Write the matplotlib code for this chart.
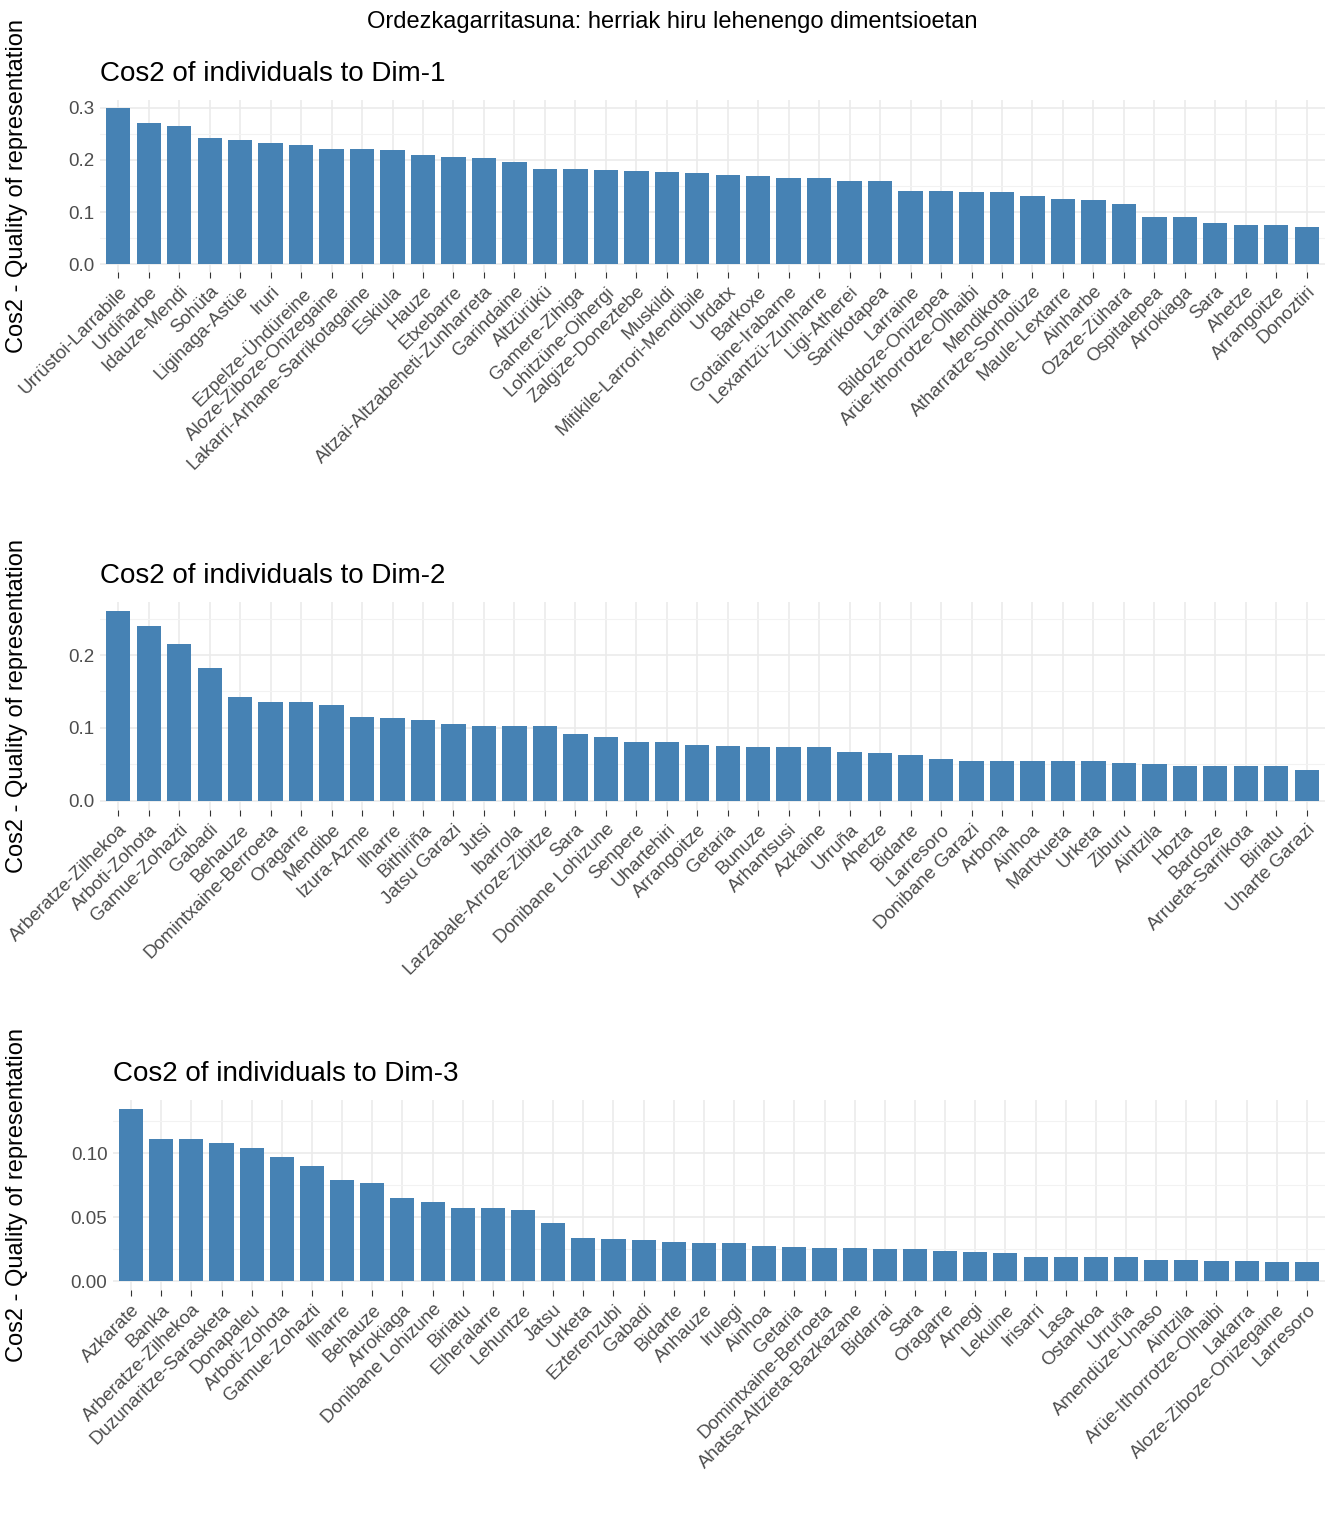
import numpy as np
import matplotlib.pyplot as plt
from matplotlib.ticker import MultipleLocator

plt.rcParams['font.family'] = ['Liberation Sans', 'DejaVu Sans']

# Dim-1
names1 = ['Urrüstoi-Larrabile', 'Urdiñarbe', 'Idauze-Mendi', 'Sohüta', 'Liginaga-Astüe', 'Iruri',
          'Ezpelze-Ündüreine', 'Aloze-Ziboze-Onizegaine', 'Lakarri-Arhane-Sarrikotagaine', 'Eskiula',
          'Hauze', 'Etxebarre', 'Altzai-Altzabeheti-Zunharreta', 'Garindaine', 'Altzürükü',
          'Gamere-Zihiga', 'Lohitzüne-Oihergi', 'Zalgize-Doneztebe', 'Muskildi',
          'Mitikile-Larrori-Mendibile', 'Urdatx', 'Barkoxe', 'Gotaine-Irabarne', 'Lexantzü-Zunharre',
          'Ligi-Atherei', 'Sarrikotapea', 'Larraine', 'Bildoze-Onizepea', 'Arüe-Ithorrotze-Olhaibi',
          'Mendikota', 'Atharratze-Sorholüze', 'Maule-Lextarre', 'Ainharbe', 'Ozaze-Zühara',
          'Ospitalepea', 'Arrokiaga', 'Sara', 'Ahetze', 'Arrangoitze', 'Donoztiri']
vals1 = [0.300, 0.270, 0.265, 0.243, 0.238, 0.232, 0.228, 0.221, 0.221, 0.220,
         0.210, 0.206, 0.203, 0.197, 0.182, 0.182, 0.181, 0.178, 0.176, 0.175,
         0.171, 0.169, 0.166, 0.165, 0.160, 0.160, 0.141, 0.140, 0.139, 0.138,
         0.130, 0.126, 0.124, 0.116, 0.091, 0.091, 0.079, 0.076, 0.075, 0.071]

# Dim-2
names2 = ['Arberatze-Zilhekoa', 'Arboti-Zohota', 'Gamue-Zohazti', 'Gabadi', 'Behauze',
          'Domintxaine-Berroeta', 'Oragarre', 'Mendibe', 'Izura-Azme', 'Ilharre', 'Bithiriña',
          'Jatsu Garazi', 'Jutsi', 'Ibarrola', 'Larzabale-Arroze-Zibitze', 'Sara',
          'Donibane Lohizune', 'Senpere', 'Uhartehiri', 'Arrangoitze', 'Getaria', 'Bunuze',
          'Arhantsusi', 'Azkaine', 'Urruña', 'Ahetze', 'Bidarte', 'Larresoro', 'Donibane Garazi',
          'Arbona', 'Ainhoa', 'Martxueta', 'Urketa', 'Ziburu', 'Aintzila', 'Hozta', 'Bardoze',
          'Arrueta-Sarrikota', 'Biriatu', 'Uharte Garazi']
vals2 = [0.260, 0.240, 0.215, 0.182, 0.143, 0.136, 0.135, 0.131, 0.115, 0.114,
         0.111, 0.105, 0.103, 0.103, 0.102, 0.091, 0.088, 0.081, 0.080, 0.076,
         0.075, 0.074, 0.073, 0.073, 0.067, 0.066, 0.063, 0.057, 0.055, 0.054,
         0.054, 0.054, 0.054, 0.052, 0.050, 0.047, 0.047, 0.047, 0.047, 0.042]

# Dim-3
names3 = ['Azkarate', 'Banka', 'Arberatze-Zilhekoa', 'Duzunaritze-Sarasketa', 'Donapaleu',
          'Arboti-Zohota', 'Gamue-Zohazti', 'Ilharre', 'Behauze', 'Arrokiaga',
          'Donibane Lohizune', 'Biriatu', 'Elheralarre', 'Lehuntze', 'Jatsu', 'Urketa',
          'Ezterenzubi', 'Gabadi', 'Bidarte', 'Anhauze', 'Irulegi', 'Ainhoa', 'Getaria',
          'Domintxaine-Berroeta', 'Ahatsa-Altzieta-Bazkazane', 'Bidarrai', 'Sara', 'Oragarre',
          'Arnegi', 'Lekuine', 'Irisarri', 'Lasa', 'Ostankoa', 'Urruña', 'Amendüze-Unaso',
          'Aintzila', 'Arüe-Ithorrotze-Olhaibi', 'Lakarra', 'Aloze-Ziboze-Onizegaine', 'Larresoro']
vals3 = [0.135, 0.111, 0.111, 0.108, 0.104, 0.097, 0.090, 0.079, 0.077, 0.065,
         0.062, 0.057, 0.057, 0.056, 0.046, 0.034, 0.033, 0.032, 0.031, 0.030,
         0.030, 0.028, 0.027, 0.026, 0.026, 0.025, 0.025, 0.024, 0.023, 0.022,
         0.019, 0.019, 0.019, 0.019, 0.017, 0.017, 0.016, 0.016, 0.015, 0.015]

W, H = 1344, 1536
fig = plt.figure(figsize=(W / 100, H / 100), dpi=100)
fig.text(0.5, 1 - 22 / H, 'Ordezkagarritasuna: herriak hiru lehenengo dimentsioetan',
         ha='center', va='center', fontsize=17)

panels = [
    (names1, vals1, 'Cos2 of individuals to Dim-1', (100, 100, 1325, 272), 0.1, 0.05, '{:.1f}'),
    (names2, vals2, 'Cos2 of individuals to Dim-2', (100, 602, 1325, 810), 0.1, 0.05, '{:.1f}'),
    (names3, vals3, 'Cos2 of individuals to Dim-3', (113, 1100, 1325, 1290), 0.05, 0.025, '{:.2f}'),
]

for names, vals, title, (x0, y0, x1, y1), major, minor, fmt in panels:
    ax = fig.add_axes([x0 / W, 1 - y1 / H, (x1 - x0) / W, (y1 - y0) / H])
    x = np.arange(len(vals))
    ax.bar(x, vals, width=0.8, color='steelblue', zorder=2)
    ax.set_xlim(-0.6, len(vals) - 0.4)
    ax.set_ylim(-max(vals) * 0.05, max(vals) * 1.05)
    ax.yaxis.set_minor_locator(MultipleLocator(minor))
    ticks = [t for t in np.arange(0, max(vals) * 1.05, major)]
    ax.set_yticks(ticks)
    ax.set_yticklabels([fmt.format(t) for t in ticks], fontsize=13.5, color='#4D4D4D')
    ax.set_xticks(x)
    ax.set_xticklabels(names, rotation=45, ha='right', rotation_mode='anchor',
                       fontsize=13.5, color='#4D4D4D')
    ax.tick_params(axis='x', length=4, color='#333333', pad=4)
    ax.tick_params(axis='y', length=0, which='both', pad=4)
    ax.grid(True, which='major', color='#EBEBEB', lw=1.2, zorder=0)
    ax.grid(True, which='minor', axis='y', color='#F2F2F2', lw=0.8, zorder=0)
    for s in ax.spines.values():
        s.set_visible(False)
    ax.set_title(title, loc='left', fontsize=20, pad=14)
    ax.set_ylabel('Cos2 - Quality of representation', fontsize=17)
    ax.yaxis.set_label_coords((28 - x0) / (x1 - x0), 0.5 - (y0 + y1 - 2 * ((y0 + y1) / 2 + 60)) / 2 / (y1 - y0) * 0)

fig.savefig('out.png', dpi=100)
